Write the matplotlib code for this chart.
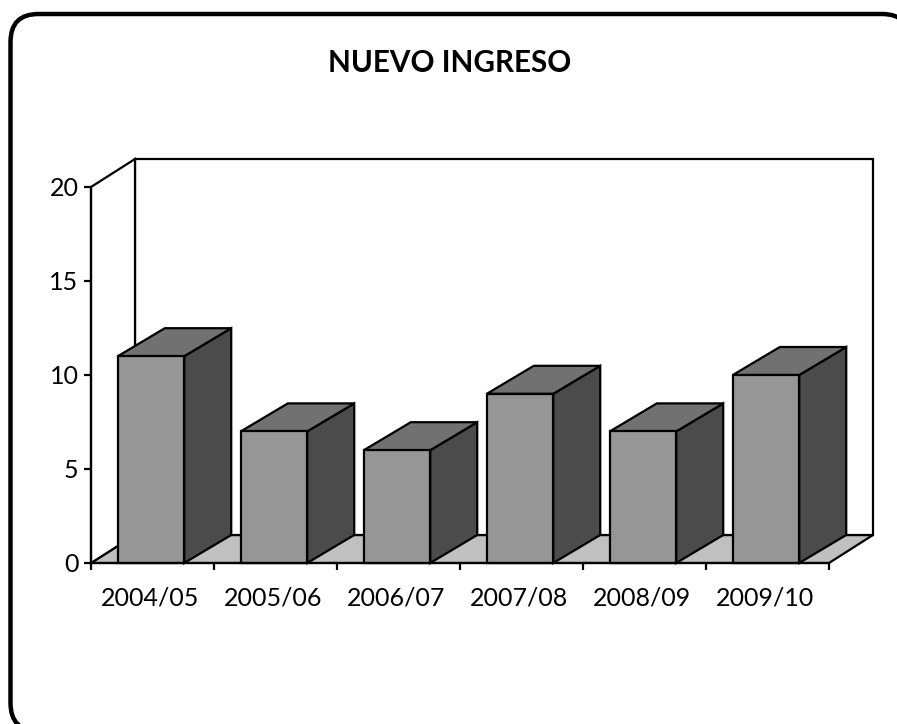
import numpy as np
import matplotlib
matplotlib.use('Agg')
import matplotlib.pyplot as plt
from matplotlib.patches import FancyBboxPatch, Polygon
from matplotlib.transforms import IdentityTransform

plt.rcParams['font.family'] = ['Lato', 'DejaVu Sans']

cursos = ['2004/05', '2005/06', '2006/07', '2007/08', '2008/09', '2009/10']
valores = [11, 7, 6, 9, 7, 10]
y_ticks = [0, 5, 10, 15, 20]

W, H = 897, 724
fig = plt.figure(figsize=(W / 100, H / 100), dpi=100)

# outer rounded frame, runs off the right and bottom edges
# white face on purpose: without a face agg clips the curves to the canvas and bends them
r = 28
fig.add_artist(FancyBboxPatch((10.5 + r, -7 + r), 910 - 10.5 - 2 * r, H - 14 + 7 - 2 * r,
                              boxstyle=f'round,pad={r},rounding_size={r}',
                              transform=IdentityTransform(), fc='white', ec='black',
                              lw=3.2, zorder=-1))

# front plane of the chart
x0, x1, y0, y1 = 91, 829, 563, 187
ax = fig.add_axes([x0 / W, 1 - y0 / H, (x1 - x0) / W, (y0 - y1) / H])
ax.set_xlim(0, len(cursos))
ax.set_ylim(0, 20)
ax.patch.set_visible(False)

# depth of the 3d effect in data units
dx = 44 / (x1 - x0) * len(cursos)
dy = 28 / (y0 - y1) * 20
dx_bar = 47 / (x1 - x0) * len(cursos)  # bars stick out a bit more than the walls
n = len(cursos)
lw = 1.6

def cara(puntos, color, z):
    ax.add_patch(Polygon(puntos, closed=True, fc=color, ec='black', lw=lw,
                         joinstyle='miter', clip_on=False, zorder=z))

# floor and back walls
cara([(0, 0), (n, 0), (n + dx, dy), (dx, dy)], '#c0c0c0', 1)
cara([(dx, dy), (n + dx, dy), (n + dx, 20 + dy), (dx, 20 + dy)], 'white', 1)
cara([(0, 0), (dx, dy), (dx, 20 + dy), (0, 20)], 'white', 1)

# bars
ancho = 0.54
izq = 0.218
for i, v in enumerate(valores):
    a = i + izq
    b = a + ancho
    z = 2 + i
    ax.bar(a, v, width=ancho, align='edge', color='#969696', edgecolor='black',
           linewidth=lw, clip_on=False, zorder=z + 0.5)
    cara([(b, 0), (b + dx_bar, dy), (b + dx_bar, v + dy), (b, v)], '#4b4b4b', z)
    cara([(a, v), (b, v), (b + dx_bar, v + dy), (a + dx_bar, v + dy)], '#717171', z)

for s in ['top', 'right']:
    ax.spines[s].set_visible(False)
for s in ['left', 'bottom']:
    ax.spines[s].set_linewidth(lw)
    ax.spines[s].set_zorder(20)

ax.set_yticks(y_ticks)
ax.set_xticks(np.arange(n + 1))
ax.set_xticklabels([])
ax.set_xticks(np.arange(n) + 0.48, minor=True)
ax.set_xticklabels(cursos, minor=True)
ax.tick_params(axis='x', which='major', length=5, width=lw)
ax.tick_params(axis='x', which='minor', length=0, labelsize=18, pad=17)
ax.tick_params(axis='y', length=5, width=lw, labelsize=18, pad=4)

fig.text(450 / W, 1 - 63 / H, 'NUEVO INGRESO', fontsize=21.3, fontweight='bold',
         ha='center', va='center')

fig.savefig('out.png', dpi=100)
